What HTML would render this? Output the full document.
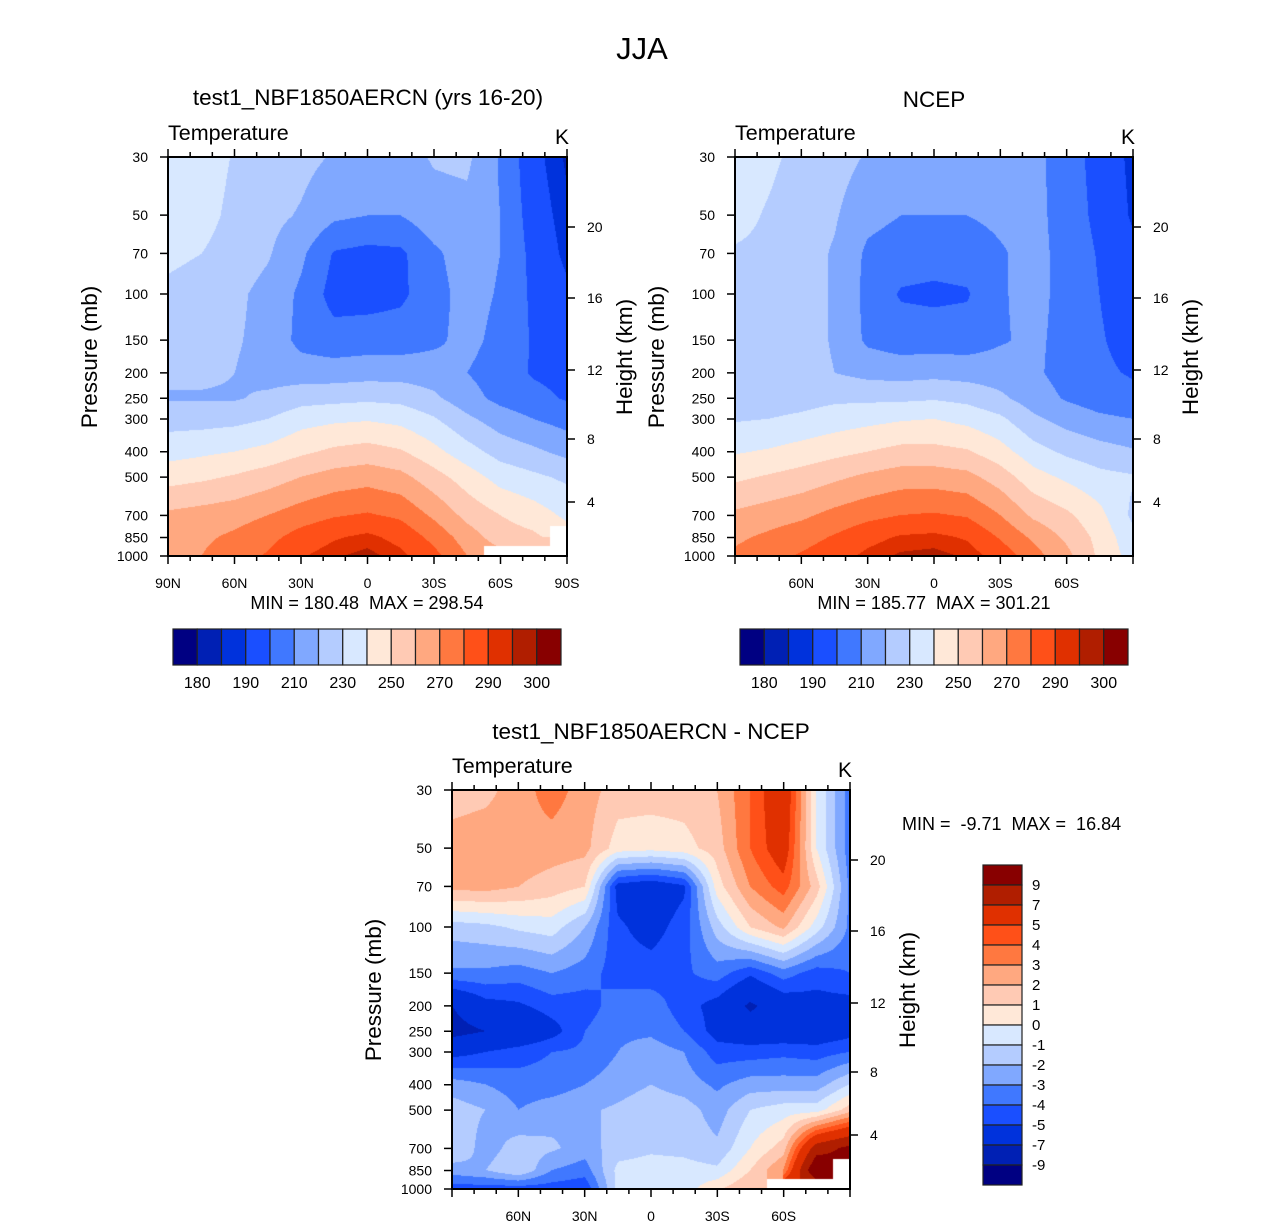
<!DOCTYPE html>
<html><head><meta charset="utf-8">
<style>
html,body{margin:0;padding:0;background:#fff;}
#wrap{position:relative;width:1285px;height:1227px;overflow:hidden;font-family:"Liberation Sans",sans-serif;}
canvas{position:absolute;}
svg{position:absolute;left:0;top:0;}
</style></head>
<body>
<div id="wrap">
<canvas id="c1" width="399" height="399" style="left:168px;top:157px"></canvas>
<canvas id="c2" width="398" height="399" style="left:735px;top:157px"></canvas>
<canvas id="c3" width="398" height="399" style="left:452px;top:790px"></canvas>
<svg id="ov" width="1285" height="1227">
<text x="642" y="59" font-size="31" text-anchor="middle">JJA</text>
<text x="368" y="105" font-size="22.5" text-anchor="middle">test1_NBF1850AERCN (yrs 16-20)</text>
<text x="934" y="107" font-size="22.5" text-anchor="middle">NCEP</text>
<text x="651" y="739" font-size="22.5" text-anchor="middle">test1_NBF1850AERCN - NCEP</text>
<text x="367" y="609" font-size="18" text-anchor="middle" xml:space="preserve">MIN = 180.48  MAX = 298.54</text>
<text x="934" y="609" font-size="18" text-anchor="middle" xml:space="preserve">MIN = 185.77  MAX = 301.21</text>
<text x="902" y="830" font-size="18" xml:space="preserve">MIN =  -9.71  MAX =  16.84</text>
</svg>
</div>
<script>
// ---- data ----
const PLEV = [30,50,70,100,150,200,250,300,400,500,700,850,1000];
const PTICKS = [30,50,70,100,150,200,250,300,400,500,700,850,1000];
const HTICKS = [20,16,12,8,4];
const HTICK_OFF = [70,141,213,282,345];
const LAT_ALL = ['90N','60N','30N','0','30S','60S','90S'];
const LAT_INNER = ['','60N','30N','0','30S','60S',''];
const COLORS = ['#000082','#0020b4','#0032dc','#1a4fff','#4078ff','#80a8ff','#b4ccff','#d8e8ff','#ffe8d8','#ffcab4','#ffa880','#ff7840','#ff5018','#e03000','#b01e00','#880000'];
const LEV_T = [180,185,190,200,210,220,230,240,250,260,270,280,290,295,300];
const LEV_D = [-9,-7,-5,-4,-3,-2,-1,0,1,2,3,4,5,7,9];
const LEV_T_LABELS = ['180','190','210','230','250','270','290','300'];
const LEV_D_LABELS = ['9','7','5','4','3','2','1','0','-1','-2','-3','-4','-5','-7','-9'];
// columns: 90N..90S every 15deg; each column lists values at PLEV
const MODEL = [
[235,234,232,228,225,222,219,226,236,246,262,264,266],
[236,234,230,226,224,222,219,226,238,248,264,268,270],
[229,227,225,222,221,220,219,227,240,251,266,272,276],
[226,223,221,217,217,216,222,230,243,255,270,277,281],
[223,219,212,208,207,215,226,236,248,260,275,284,289],
[219,212,199,196,204,215,227,238,252,264,279,289,294],
[215,210,197,196,205,216,228,239,254,266,281,292,297],
[216,210,198,198,205,216,227,237,251,263,278,287,292],
[221,216,208,206,208,215,222,231,243,254,268,277,283],
[222,217,215,214,213,210,214,222,234,245,257,265,270],
[209,210,210,209,207,205,207,215,226,236,250,255,null],
[193,195,197,198,199,199,203,210,222,232,245,252,null],
[184,186.5,188,192,195,197,199,206,217,228,238,null,null]];
const NCEP = [
[236,233,229,228,227,226,225,229,239,248,262,268,272],
[232,229,228,227,226,226,225,230,241,251,265,272,277],
[227,225,224,224,224,224,226,232,244,254,268,276,281],
[224,221,219,219,219,220,228,235,247,258,273,281,286],
[219,213,208,207,208,217,228,237,250,262,277,287,292],
[217,210,205,199,205,216,228,239,253,265,280,291,296],
[216,210,204,198,205,217,229,240,253,265,281,292,297],
[216,210,205,199,205,216,227,237,251,263,279,289,294],
[216,212,209,209,209,215,222,232,244,255,270,279,286],
[213,213,213,213,212,212,215,222,234,244,258,268,274],
[205,206,207,207,207,206,209,216,228,238,252,258,263],
[196,197,199,200,201,202,205,212,224,233,243,247,248],
[188,189,192,194,196,199,203,210,221,231,228,233,236]];
const DIFF = [
[1.5,2.5,2.3,-1.5,-3.2,-7,-7.6,-5.5,-2.5,-1.5,-1,-2.5,-4.5],
[1.7,2.7,2.4,-1.3,-3.2,-5.5,-7,-5,-3,-2,-2.5,-2,-4.5],
[2.5,2.7,2,-0.8,-3.5,-5.2,-6.5,-4.5,-3.5,-3,-1.5,-1,-4.5],
[3.5,2.5,1.5,-0.5,-3,-4.5,-5.5,-4,-3.5,-2.5,-1.8,-3,-4.5],
[2.5,2.3,1,-2,-3.5,-4.5,-4,-3.8,-3,-2.2,-2.5,-3.5,-4.8],
[1.5,0.5,-5.5,-4.8,-4.5,-3.5,-3.2,-3,-2.5,-1.8,-1.5,-0.7,-0.7],
[1.5,0.3,-6,-5.5,-4.5,-3.5,-3.2,-2.5,-2,-1.3,-1.2,-0.5,-0.5],
[1.5,0.6,-5.2,-4.5,-4.2,-4.5,-4,-3,-2.5,-1.5,-1.3,-0.6,-0.5],
[2,1.5,0.5,-1.5,-3.5,-5.5,-5.5,-4.5,-3.2,-2.5,-1.8,-0.8,0.8],
[4,4,3,1,-4.8,-7.3,-6,-4.5,-2.5,-1,0,1,2],
[6.5,6,4.5,2.2,-3.5,-6,-6,-4.3,-2.5,-0.5,1.5,3,null],
[0,0,1.5,-0.5,-4.5,-5.5,-6,-4.5,-2.5,-0.5,8,11,null],
[-3.5,-3.5,-3.2,-3.2,-4,-5.5,-5.5,-4,-1,1.5,9.5,null,null]];

// ---- rendering ----
const LN = Math.log(1000/30);
const ypos = PLEV.map(p => Math.log(p/30)/LN);
function classOf(v, lev){let k=0;while(k<lev.length && v>=lev[k])k++;return k;}
function hex(h){return [parseInt(h.substr(1,2),16),parseInt(h.substr(3,2),16),parseInt(h.substr(5,2),16)];}
const RGB = COLORS.map(hex);
function render(id, cols, lev){
  const cv=document.getElementById(id), ctx=cv.getContext('2d');
  const W=cv.width,H=cv.height,img=ctx.createImageData(W,H);
  const nc=cols.length-1;
  for(let py=0;py<H;py++){
    const yf=py/(H-1);
    let r=0;while(r<ypos.length-2 && yf>ypos[r+1])r++;
    const t=Math.min(1,Math.max(0,(yf-ypos[r])/(ypos[r+1]-ypos[r])));
    for(let px=0;px<W;px++){
      const xf=px/(W-1)*nc;
      let c=Math.min(nc-1,Math.floor(xf));const s=xf-c;
      const nr=t<0.5?r:r+1, ncl=s<0.5?c:c+1;
      const o=(py*W+px)*4;
      if(cols[ncl][nr]===null){img.data[o]=255;img.data[o+1]=255;img.data[o+2]=255;img.data[o+3]=255;continue;}
      let vals=[cols[c][r],cols[c+1][r],cols[c][r+1],cols[c+1][r+1]];
      const ok=vals.filter(v=>v!==null);const avg=ok.reduce((a,b)=>a+b,0)/ok.length;
      vals=vals.map(v=>v===null?avg:v);
      const v=(vals[0]*(1-s)+vals[1]*s)*(1-t)+(vals[2]*(1-s)+vals[3]*s)*t;
      const col=RGB[classOf(v,lev)];
      img.data[o]=col[0];img.data[o+1]=col[1];img.data[o+2]=col[2];img.data[o+3]=255;
    }
  }
  ctx.putImageData(img,0,0);
}
render('c1',MODEL,LEV_T);render('c2',NCEP,LEV_T);render('c3',DIFF,LEV_D);

const NS='http://www.w3.org/2000/svg', svg=document.getElementById('ov');
function mk(tag,a,txt){const e=document.createElementNS(NS,tag);for(const k in a)e.setAttribute(k,a[k]);if(txt!==undefined)e.textContent=txt;svg.appendChild(e);return e;}
function line(x1,y1,x2,y2,w){return mk('line',{x1:x1,y1:y1,x2:x2,y2:y2,stroke:'#000','stroke-width':w||1.5});}

function axes(x0,y0,w,h,latLabels,prefix){
  const fr=mk('rect',{x:x0,y:y0,width:w,height:h,fill:'none',stroke:'#000','stroke-width':2});
  
  
  PTICKS.forEach(p=>{
    const y=y0+Math.log(p/30)/LN*h;
    const tk=line(x0-8,y,x0,y);
    
    
    const tl=mk('text',{x:x0-20,y:y+5,'font-size':14,'text-anchor':'end'},String(p));
    
    
  });
  HTICKS.forEach((hv,i)=>{
    const y=y0+HTICK_OFF[i];
    const tk=line(x0+w,y,x0+w+8,y);
    
    
    const tl=mk('text',{x:x0+w+20,y:y+5,'font-size':14},String(hv));
    
    
  });
  for(let d=0;d<=18;d++){
    const x=x0+d*w/18, major=(d%3===0);
    const tb=line(x,y0+h,x,y0+h+(major?8:5));
    
    
    const tt=line(x,y0,x,y0-(major?8:5));
    
    
    if(major && latLabels[d/3]){
      const tl=mk('text',{x:x,y:y0+h+32,'font-size':14,'text-anchor':'middle'},latLabels[d/3]);
      
      
    }
  }
  const t1=mk('text',{x:x0,y:y0-17,'font-size':21.5},'Temperature');
  
  
  const t2=mk('text',{x:x0+w-5,y:y0-13,'font-size':21},'K');
  t2.setAttribute('text-anchor','middle');
  
  
  const yl=mk('text',{x:0,y:0,'font-size':22.5,'text-anchor':'middle',transform:`translate(${x0-71},${y0+200}) rotate(-90)`},'Pressure (mb)');
  
  
  const hl=mk('text',{x:0,y:0,'font-size':22.5,'text-anchor':'middle',transform:`translate(${x0+w+65},${y0+200}) rotate(-90)`},'Height (km)');
  
  
}
axes(168,157,399,399,LAT_ALL,'model');
axes(735,157,398,399,LAT_INNER,'ncep');
axes(452,790,398,399,LAT_INNER,'difference');

function hbar(x0,y0,prefix){
  const bw=388/16;
  COLORS.forEach((c,i)=>{
    const r=mk('rect',{x:x0+i*bw,y:y0,width:bw,height:36,fill:c,stroke:'#222','stroke-width':1.2});
    
    
  });
  LEV_T_LABELS.forEach((lb,i)=>{
    const x=x0+(2*i+1)*bw;
    const t=mk('text',{x:x,y:y0+59,'font-size':16,'text-anchor':'middle'},lb);
    
    
  });
}
hbar(173,629,'model');hbar(740,629,'ncep');

for(let i=0;i<16;i++){
  const r=mk('rect',{x:983,y:865+i*20,width:39,height:20,fill:COLORS[15-i],stroke:'#222','stroke-width':1.2});
  
  
}
LEV_D_LABELS.forEach((lb,i)=>{
  const t=mk('text',{x:1032,y:865+(i+1)*20+5,'font-size':15},lb);
  
  
});
</script>
</body></html>
